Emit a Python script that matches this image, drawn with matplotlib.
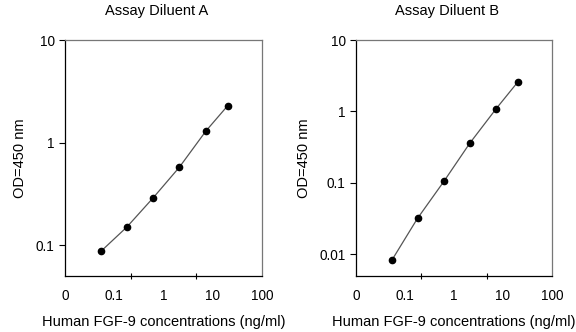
import matplotlib
matplotlib.use("Agg")
import matplotlib.pyplot as plt
from matplotlib.ticker import FixedLocator, NullFormatter

plt.rcParams['font.family'] = ['Liberation Sans', 'DejaVu Sans']

# concentrations (ng/ml)
conc = [0.055, 0.18, 0.62, 2.1, 7.3, 20.0]

# OD readings
od_a = [0.088, 0.150, 0.29, 0.575, 1.30, 2.28]
od_b = [0.0085, 0.032, 0.105, 0.36, 1.10, 2.58]

x_ticks = [0.01, 0.1, 1, 10, 100]
x_labels = ["0", "0.1", "1", "10", "100"]

fig = plt.figure(figsize=(5.76, 3.32), dpi=100)
axA = fig.add_axes([65/576, 1 - 276/332, 197/576, 236/332])
axB = fig.add_axes([356/576, 1 - 276/332, 196/576, 236/332])

panels = [
    (axA, od_a, "Assay Diluent A", (0.05, 10), [0.1, 1, 10], ["0.1", "1", "10"]),
    (axB, od_b, "Assay Diluent B", (0.005, 10), [0.01, 0.1, 1, 10], ["0.01", "0.1", "1", "10"]),
]

for ax, od, title, ylim, yt, yl in panels:
    ax.plot(conc, od, '-', color='#555555', lw=0.9, zorder=2)
    ax.plot(conc, od, 'o', color='black', ms=4.5, zorder=3)
    ax.set_xscale('log')
    ax.set_yscale('log')
    ax.set_xlim(0.01, 100)
    ax.set_ylim(*ylim)

    # labels at decades, tick marks at thirds of the axis
    ax.xaxis.set_major_locator(FixedLocator(x_ticks))
    ax.set_xticklabels(x_labels)
    ax.xaxis.set_minor_locator(FixedLocator([0.01, 10 ** (-2 + 4 / 3), 10 ** (-2 + 8 / 3), 100]))
    ax.xaxis.set_minor_formatter(NullFormatter())
    ax.tick_params(axis='x', which='major', length=0, pad=9, labelsize=9.8)
    ax.tick_params(axis='x', which='minor', length=4, direction='inout', width=0.8)

    ax.yaxis.set_major_locator(FixedLocator(yt))
    ax.set_yticklabels(yl)
    ax.yaxis.set_minor_locator(FixedLocator([]))
    ax.tick_params(axis='y', which='major', length=4, width=0.8, labelsize=9.8)

    ax.spines['left'].set_color('black')
    ax.spines['bottom'].set_color('black')
    ax.spines['top'].set_color('#777777')
    ax.spines['right'].set_color('#777777')
    for s in ax.spines.values():
        s.set_linewidth(0.9)

    ax.set_title(title, fontsize=10.5, pad=18, x=0.465)
    ax.set_xlabel("Human FGF-9 concentrations (ng/ml)", fontsize=10.5, labelpad=9)
    ax.set_ylabel("OD=450 nm", fontsize=10.5, labelpad=6)

fig.savefig("out.png", dpi=100)
